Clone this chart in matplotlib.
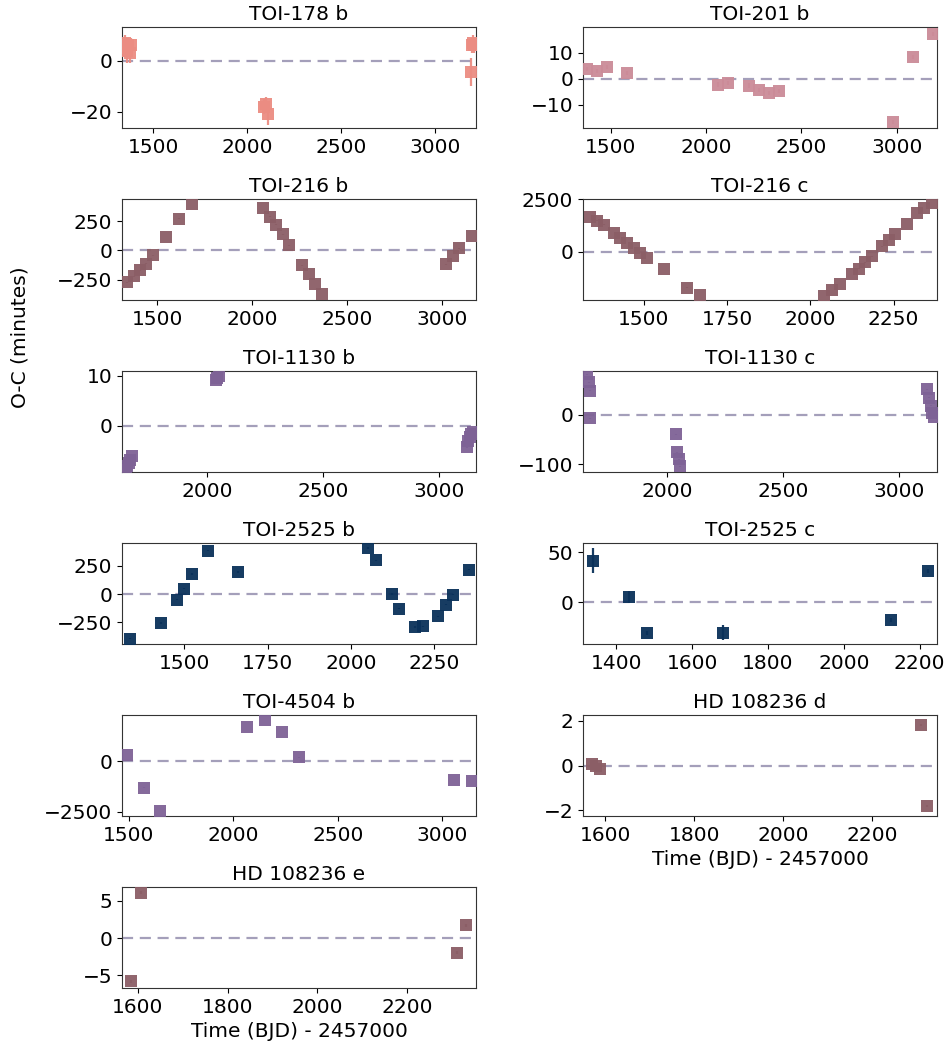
import matplotlib
matplotlib.use("Agg")
import matplotlib.pyplot as plt
import numpy as np

plt.rcParams['font.family'] = ['DejaVu Sans']
plt.rcParams['font.size'] = 14.5

# ---------------- data ----------------
names = ["TOI-178 b", "TOI-201 b", "TOI-216 b", "TOI-216 c", "TOI-1130 b",
         "TOI-1130 c", "TOI-2525 b", "TOI-2525 c", "TOI-4504 b",
         "HD 108236 d", "HD 108236 e"]

colors = ["#EB8C82", "#CB8B98", "#8B5E66", "#8B5E66", "#7E6296",
          "#7E6296", "#0A315A", "#0A315A", "#7E6296", "#8B5E66", "#8B5E66"]

toi178b_t = [1345, 1352, 1360, 1367, 1375, 1382, 2090, 2100, 2112, 3190, 3196, 3202, 3208]
toi178b_y = [5, 7, 4, 6, 3, 6, -18, -17, -21, -4.5, 6, 7, 6]
toi178b_e = [3, 3, 5, 3, 4, 3, 3, 3, 4, 5.5, 3, 3, 3]

toi201b_t = [1372, 1428, 1481, 1586, 2061, 2116, 2225, 2277, 2330, 2383, 2979, 3084, 3189]
toi201b_y = [3.8, 3.0, 4.3, 2.2, -2.3, -1.6, -2.7, -4.4, -5.4, -4.8, -16.6, 8.2, 17.0]
toi201b_e = [0.8] * 13

toi216b_t = [1342, 1381, 1412, 1444, 1477, 1545, 1614, 1684, 2058, 2093, 2128,
             2160, 2194, 2263, 2300, 2333, 2368, 3018, 3055, 3088, 3158]
toi216b_y = [-274, -223, -170, -113, -42, 113, 269, 396, 362, 286, 220,
             136, 42, -127, -203, -288, -373, -119, -48, 17, 121]
toi216b_e = [3] * 21

toi216c_t = [1340, 1360, 1380, 1410, 1430, 1450, 1470, 1490, 1510, 1560, 1630, 1670,
             2040, 2065, 2090, 2125, 2145, 2165, 2185, 2215, 2235, 2255, 2290, 2320, 2340, 2365]
toi216c_y = [1660, 1480, 1290, 900, 650, 420, 180, -60, -280, -820, -1690, -2050,
             -2087, -1803, -1532, -1058, -788, -503, -218, 256, 570, 840, 1314, 1836, 2059, 2296]
toi216c_e = [5] * 26

toi1130b_t = [1650, 1657, 1663, 1670, 1677, 2038, 2045, 2052, 3122, 3128, 3134, 3140, 3146]
toi1130b_y = [-8.8, -8.0, -7.4, -6.8, -6.0, 9.2, 9.5, 9.9, -4.2, -3.0, -2.2, -1.7, -1.3]
toi1130b_e = [0.3] * 13

toi1130c_t = [1655, 1662, 1668, 1670, 2039, 2044, 2051, 2057, 3122, 3129, 3136, 3143, 3150]
toi1130c_y = [82.5, 65.7, 48.7, -6.7, -39, -76, -90, -103.5, 52, 35, 18, 3.5, -5]
toi1130c_e = [1] * 13

toi2525b_t = [1337, 1430, 1477, 1500, 1523, 1570, 1662, 2053, 2076, 2123, 2146,
              2193, 2216, 2263, 2286, 2308, 2356]
toi2525b_y = [-395, -256, -50, 47, 177, 382, 194, 406, 297, 0, -130,
              -291, -286, -198, -94, -6, 215]
toi2525b_e = [5] * 17

toi2525c_t = [1338, 1434, 1481, 1681, 2124, 2221]
toi2525c_y = [41.7, 5.0, -30.5, -30.0, -17.2, 31.8]
toi2525c_e = [12.5, 6.0, 2.0, 7.5, 2.0, 2.0]

toi4504b_t = [1492, 1571, 1651, 2067, 2152, 2232, 2315, 3057, 3140]
toi4504b_y = [296, -1297, -2466, 1692, 2022, 1446, 182, -937, -971]
toi4504b_e = [10] * 9

hd108236d_t = [1570, 1579, 1589, 2310, 2324]
hd108236d_y = [0.05, 0.0, -0.15, 1.81, -1.81]
hd108236d_e = [0.08, 0.08, 0.12, 0.03, 0.03]

hd108236e_t = [1586, 1608, 2311, 2331]
hd108236e_y = [-5.77, 6.08, -1.95, 1.70]
hd108236e_e = [0.2, 0.2, 0.2, 0.2]

times = [toi178b_t, toi201b_t, toi216b_t, toi216c_t, toi1130b_t, toi1130c_t,
         toi2525b_t, toi2525c_t, toi4504b_t, hd108236d_t, hd108236e_t]
ocs = [toi178b_y, toi201b_y, toi216b_y, toi216c_y, toi1130b_y, toi1130c_y,
       toi2525b_y, toi2525c_y, toi4504b_y, hd108236d_y, hd108236e_y]
errs = [toi178b_e, toi201b_e, toi216b_e, toi216c_e, toi1130b_e, toi1130c_e,
        toi2525b_e, toi2525c_e, toi4504b_e, hd108236d_e, hd108236e_e]

xlims = [(1334, 3218), (1353, 3212), (1316, 3177), (1318, 2380), (1634, 3161),
         (1638, 3164), (1313, 2376), (1312, 2246), (1468, 3161), (1550, 2346),
         (1565, 2353)]
ylims = [(-26.3, 13.2), (-19.0, 19.8), (-424, 438), (-2277, 2500), (-9.27, 10.93),
         (-115.6, 88.6), (-441, 450), (-41.4, 59.3), (-2698, 2268), (-2.26, 2.26),
         (-6.68, 6.84)]

# ---------------- figure ----------------
fig = plt.figure(figsize=(9.48, 10.48), dpi=100)
gs = fig.add_gridspec(6, 2, left=122/948, right=937/948, top=1-27/1048,
                      bottom=1-988/1048, wspace=0.302, hspace=0.703)

for i, name in enumerate(names):
    r, c = divmod(i, 2)
    ax = fig.add_subplot(gs[r, c])
    ax.axhline(0, color="#A49FBA", ls=(0, (5, 3)), lw=1.6, zorder=1)
    ax.errorbar(times[i], ocs[i], yerr=errs[i], fmt="s", color=colors[i],
                ms=8.3, mew=0, elinewidth=1.6, capsize=0,
                alpha=0.95, zorder=3)
    ax.set_xlim(*xlims[i])
    ax.set_ylim(*ylims[i])
    ax.set_title(name, fontsize=14.5, pad=5)
    for s in ax.spines.values():
        s.set_color("#333333")
    if name.startswith("HD"):
        ax.set_xlabel("Time (BJD) - 2457000", fontsize=14.5)

fig.text(20/948, 1-337/1048, "O-C (minutes)", rotation=90, ha="center",
         va="center", fontsize=14.5)

fig.savefig("out.png", dpi=100)
